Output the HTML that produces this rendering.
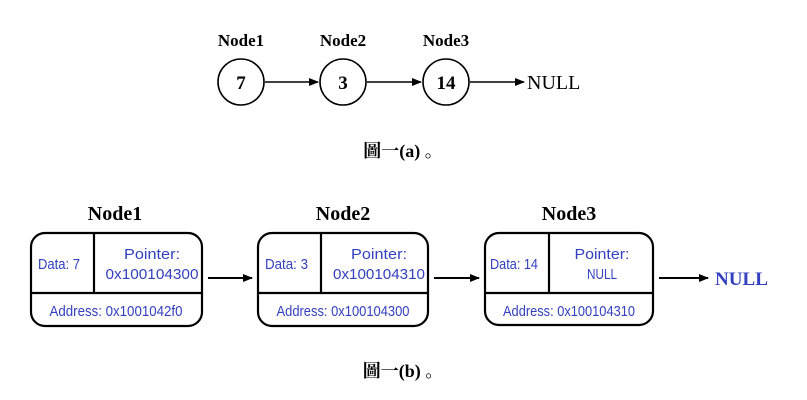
<!DOCTYPE html>
<html><head><meta charset="utf-8"><style>
html,body{margin:0;padding:0;background:#fff;}
svg{display:block;}
.s{font-family:"Liberation Serif","Noto Serif CJK SC",serif;}
.b{font-family:"Liberation Sans",sans-serif;fill:#3340c0;font-size:15px;}
</style></head><body>
<svg width="807" height="400" viewBox="0 0 807 400">
<defs><marker id="a" markerWidth="10" markerHeight="8" refX="9" refY="4" orient="auto" markerUnits="userSpaceOnUse"><path d="M0,0 L10,4 L0,8 z" fill="#000"/></marker></defs>
<g class="s" font-weight="bold" font-size="17" text-anchor="middle">
<text x="241" y="46">Node1</text><text x="343" y="46">Node2</text><text x="446" y="46">Node3</text>
</g>
<g fill="none" stroke="#000" stroke-width="1.6">
<circle cx="241" cy="82" r="23"/><circle cx="343" cy="82" r="23"/><circle cx="446" cy="82" r="23"/>
<line x1="265" y1="82" x2="318" y2="82" marker-end="url(#a)"/>
<line x1="367" y1="82" x2="421" y2="82" marker-end="url(#a)"/>
<line x1="470" y1="82" x2="524" y2="82" marker-end="url(#a)"/>
</g>
<g class="s" font-size="19" font-weight="bold" text-anchor="middle">
<text x="241" y="89">7</text><text x="343" y="89">3</text><text x="446" y="89">14</text>
</g>
<text class="s" x="527" y="89" font-size="20">NULL</text>
<text class="s" x="403" y="157" font-size="18" font-weight="bold" text-anchor="middle">圖一(a) 。</text>

<g class="s" font-weight="bold" font-size="20" text-anchor="middle">
<text x="115" y="220">Node1</text><text x="343" y="220">Node2</text><text x="569" y="220">Node3</text>
</g>
<g fill="none" stroke="#000" stroke-width="2.2">
<rect x="31" y="233" width="171" height="93" rx="14"/>
<line x1="94" y1="233" x2="94" y2="293"/><line x1="31" y1="293" x2="202" y2="293"/>
<rect x="258" y="233" width="170" height="93" rx="14"/>
<line x1="321" y1="233" x2="321" y2="293"/><line x1="258" y1="293" x2="428" y2="293"/>
<rect x="485" y="233" width="168" height="92" rx="14"/>
<line x1="549" y1="233" x2="549" y2="293"/><line x1="485" y1="293" x2="653" y2="293"/>
</g>
<g stroke="#000" stroke-width="2">
<line x1="208" y1="278" x2="252" y2="278" marker-end="url(#a)"/>
<line x1="434" y1="278" x2="479" y2="278" marker-end="url(#a)"/>
<line x1="659" y1="278" x2="708" y2="278" marker-end="url(#a)"/>
</g>
<g class="b">
<text x="38" y="269" textLength="42" lengthAdjust="spacingAndGlyphs">Data: 7</text>
<text x="152" y="259" text-anchor="middle" textLength="56" lengthAdjust="spacingAndGlyphs">Pointer:</text>
<text x="152" y="279" text-anchor="middle" textLength="93" lengthAdjust="spacingAndGlyphs">0x100104300</text>
<text x="116" y="316" text-anchor="middle" textLength="133" lengthAdjust="spacingAndGlyphs">Address: 0x1001042f0</text>
<text x="265" y="269" textLength="43" lengthAdjust="spacingAndGlyphs">Data: 3</text>
<text x="379" y="259" text-anchor="middle" textLength="56" lengthAdjust="spacingAndGlyphs">Pointer:</text>
<text x="379" y="279" text-anchor="middle" textLength="92" lengthAdjust="spacingAndGlyphs">0x100104310</text>
<text x="343" y="316" text-anchor="middle" textLength="133" lengthAdjust="spacingAndGlyphs">Address: 0x100104300</text>
<text x="490" y="269" textLength="48" lengthAdjust="spacingAndGlyphs">Data: 14</text>
<text x="602" y="259" text-anchor="middle" textLength="55" lengthAdjust="spacingAndGlyphs">Pointer:</text>
<text x="602" y="279" text-anchor="middle" textLength="30" lengthAdjust="spacingAndGlyphs">NULL</text>
<text x="569" y="316" text-anchor="middle" textLength="132" lengthAdjust="spacingAndGlyphs">Address: 0x100104310</text>
</g>
<text class="s" x="715" y="285" font-size="19" font-weight="bold" fill="#3340c0" textLength="53" lengthAdjust="spacingAndGlyphs">NULL</text>
<text class="s" x="403" y="377" font-size="18" font-weight="bold" text-anchor="middle">圖一(b) 。</text>
</svg>
</body></html>
